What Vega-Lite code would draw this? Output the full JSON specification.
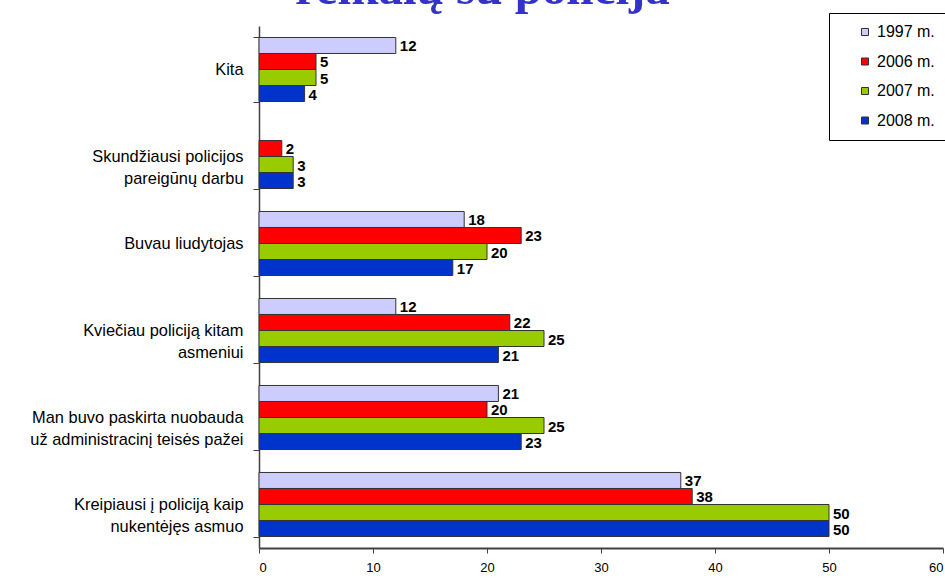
{
  "$schema": "https://vega.github.io/schema/vega-lite/v6.json",
  "width": 684,
  "height": 522,
  "autosize": {"type": "none"},
  "padding": {"left": 259, "top": 26, "right": 2, "bottom": 40},
  "background": "white",
  "config": {"font": "Liberation Sans", "view": {"stroke": null}},
  "title": {
    "text": "reikalų su policija",
    "font": "Liberation Serif",
    "fontSize": 49,
    "fontWeight": "bold",
    "color": "#3333CC",
    "anchor": "start",
    "frame": "group",
    "dx": 36,
    "dy": 40,
    "baseline": "alphabetic",
    "offset": 0
  },
  "data": {
    "values": [
      {"category": "Kita", "year": "1997 m.", "value": 12},
      {"category": "Kita", "year": "2006 m.", "value": 5},
      {"category": "Kita", "year": "2007 m.", "value": 5},
      {"category": "Kita", "year": "2008 m.", "value": 4},
      {"category": "Skundžiausi policijos\npareigūnų darbu", "year": "2006 m.", "value": 2},
      {"category": "Skundžiausi policijos\npareigūnų darbu", "year": "2007 m.", "value": 3},
      {"category": "Skundžiausi policijos\npareigūnų darbu", "year": "2008 m.", "value": 3},
      {"category": "Buvau liudytojas", "year": "1997 m.", "value": 18},
      {"category": "Buvau liudytojas", "year": "2006 m.", "value": 23},
      {"category": "Buvau liudytojas", "year": "2007 m.", "value": 20},
      {"category": "Buvau liudytojas", "year": "2008 m.", "value": 17},
      {"category": "Kviečiau policiją kitam\nasmeniui", "year": "1997 m.", "value": 12},
      {"category": "Kviečiau policiją kitam\nasmeniui", "year": "2006 m.", "value": 22},
      {"category": "Kviečiau policiją kitam\nasmeniui", "year": "2007 m.", "value": 25},
      {"category": "Kviečiau policiją kitam\nasmeniui", "year": "2008 m.", "value": 21},
      {"category": "Man buvo paskirta nuobauda\nuž administracinį teisės pažei", "year": "1997 m.", "value": 21},
      {"category": "Man buvo paskirta nuobauda\nuž administracinį teisės pažei", "year": "2006 m.", "value": 20},
      {"category": "Man buvo paskirta nuobauda\nuž administracinį teisės pažei", "year": "2007 m.", "value": 25},
      {"category": "Man buvo paskirta nuobauda\nuž administracinį teisės pažei", "year": "2008 m.", "value": 23},
      {"category": "Kreipiausi į policiją kaip\nnukentėjęs asmuo", "year": "1997 m.", "value": 37},
      {"category": "Kreipiausi į policiją kaip\nnukentėjęs asmuo", "year": "2006 m.", "value": 38},
      {"category": "Kreipiausi į policiją kaip\nnukentėjęs asmuo", "year": "2007 m.", "value": 50},
      {"category": "Kreipiausi į policiją kaip\nnukentėjęs asmuo", "year": "2008 m.", "value": 50}
    ]
  },
  "encoding": {
    "y": {
      "field": "category",
      "type": "nominal",
      "sort": null,
      "scale": {"paddingInner": 0.264, "paddingOuter": 0.132},
      "axis": {
        "title": null,
        "tickBand": "extent",
        "labelExpr": "split(datum.label, '\\n')",
        "labelFontSize": 16.4,
        "labelLineHeight": 22,
        "labelColor": "black",
        "labelPadding": 10,
        "labelLimit": 300,
        "tickSize": 6,
        "tickColor": "#404040",
        "domainColor": "#404040",
        "domainWidth": 1.5
      }
    },
    "yOffset": {
      "field": "year",
      "type": "nominal",
      "scale": {"paddingInner": 0, "paddingOuter": 0}
    },
    "x": {
      "field": "value",
      "type": "quantitative",
      "scale": {"domain": [0, 60], "nice": false},
      "axis": {
        "title": null,
        "values": [0, 10, 20, 30, 40, 50, 60],
        "grid": false,
        "labelFontSize": 13,
        "labelColor": "black",
        "labelPadding": 8,
        "tickSize": 5,
        "tickColor": "#404040",
        "domainColor": "#404040",
        "domainWidth": 2
      }
    }
  },
  "layer": [
    {
      "mark": {"type": "bar", "stroke": "#333333", "strokeWidth": 1},
      "encoding": {
        "color": {
          "field": "year",
          "type": "nominal",
          "scale": {
            "domain": ["1997 m.", "2006 m.", "2007 m.", "2008 m."],
            "range": ["#CCCCFF", "#FF0000", "#99CC00", "#0033CC"]
          },
          "legend": {
            "title": null,
            "orient": "none",
            "legendX": 570,
            "legendY": -13,
            "padding": 11,
            "strokeColor": "black",
            "fillColor": "white",
            "symbolType": "square",
            "symbolSize": 49,
            "symbolOffset": 17,
            "symbolStrokeColor": "#333333",
            "symbolStrokeWidth": 1,
            "labelFontSize": 16,
            "labelColor": "black",
            "labelOffset": 4,
            "rowPadding": 13.5
          }
        }
      }
    },
    {
      "mark": {"type": "text", "align": "left", "baseline": "middle", "dx": 4, "dy": 1, "fontWeight": "bold", "fontSize": 15, "color": "black"},
      "encoding": {"text": {"field": "value", "type": "quantitative"}}
    }
  ]
}
